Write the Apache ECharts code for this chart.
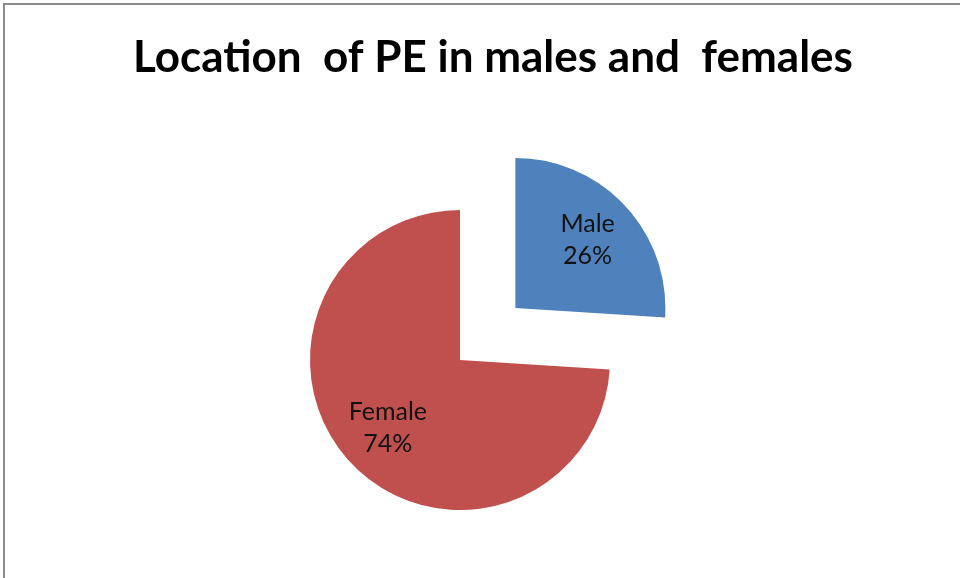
<!DOCTYPE html>
<html>
<head>
<meta charset="utf-8">
<script src="https://cdn.jsdelivr.net/npm/echarts@6/dist/echarts.min.js"></script>
<style>
  html, body { margin: 0; padding: 0; background: #fff; }
  #chart { width: 960px; height: 578px; }
</style>
</head>
<body>
<div id="chart"></div>
<script>
var titleText = 'Location  of PE in males and  females';
var categories = ['Male', 'Female'];
var shares = [26, 74];
var sliceColors = ['#4F81BD', '#C0504D'];

var pieData = [];
var labelData = [];
for (var i = 0; i < categories.length; i++) {
  pieData.push({
    name: categories[i],
    value: shares[i],
    selected: categories[i] == 'Male',
    itemStyle: { color: sliceColors[i] }
  });
  labelData.push({
    name: categories[i],
    value: shares[i],
    selected: categories[i] == 'Male'
  });
}

var myChart = echarts.init(document.getElementById('chart'), null, { renderer: 'canvas' });
myChart.setOption({
  backgroundColor: '#ffffff',
  animation: false,
  title: {
    text: titleText,
    left: 488,
    top: 31,
    textAlign: 'center',
    textStyle: { fontFamily: 'Lato', fontWeight: 'bold', fontSize: 44, color: '#000' }
  },
  graphic: [{
    type: 'rect',
    silent: true,
    shape: { x: 4, y: 4, width: 1200, height: 1000 },
    style: { fill: 'none', stroke: '#8c8c8c', lineWidth: 2 }
  }],
  series: [
    {
      // the slices
      type: 'pie',
      center: [460, 360],
      radius: [0, 150],
      startAngle: 90,
      selectedMode: 'single',
      selectedOffset: 76,
      label: { show: false },
      labelLine: { show: false },
      emphasis: { disabled: true },
      data: pieData
    },
    {
      // invisible ring that only carries the labels a bit further out
      type: 'pie',
      silent: true,
      center: [460, 360],
      radius: [0, 192],
      startAngle: 90,
      selectedMode: 'single',
      selectedOffset: 76,
      itemStyle: { color: 'rgba(0,0,0,0)' },
      label: {
        show: true,
        position: 'inside',
        formatter: '{b}\n{d}%',
        fontFamily: 'Lato',
        fontSize: 25,
        lineHeight: 32,
        color: '#111'
      },
      labelLine: { show: false },
      emphasis: { disabled: true },
      data: labelData
    }
  ]
});
</script>
</body>
</html>
